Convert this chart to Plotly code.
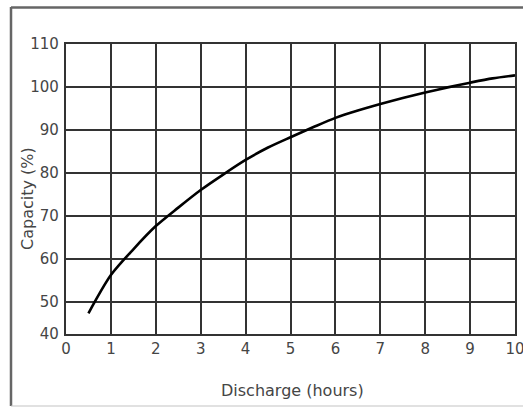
import plotly.graph_objects as go

# Data
discharge_hours = [0.5, 1, 1.5, 2, 2.5, 3, 3.5, 4, 4.5, 5, 5.5, 6, 6.5, 7, 7.5, 8, 8.5, 9, 9.5, 10]
capacity_pct = [47.3, 56.2, 62.2, 67.6, 71.9, 76.0, 79.6, 83.0, 85.9, 88.3, 90.6, 92.8,
                94.5, 96.0, 97.4, 98.7, 99.9, 101.0, 102.0, 102.7]

x_ticks = [0, 1, 2, 3, 4, 5, 6, 7, 8, 9, 10]
x_tick_labels = ["0", "1", "2", "3", "4", "5", "6", "7", "8", "9", "10"]
# the bottom row of the original grid is compressed: the "40" label sits at the axis floor
y_floor = 42.47
y_ticks = [y_floor, 50, 60, 70, 80, 90, 100, 110]
y_tick_labels = ["40", "50", "60", "70", "80", "90", "100", "110"]
x_title = "Discharge (hours)"
y_title = "Capacity (%)"

# figure is slightly wider than the window so the "10" label is cut like the original
W, H = 532, 407
ML, MR, MT, MB = 66, 17, 44, 73
pw, ph = W - ML - MR, H - MT - MB

def px_x(px):
    return (px - ML) / pw

def px_y(py):
    return (H - MB - py) / ph

font_family = "DejaVu Sans, Verdana, sans-serif"
grid_col = "#333333"
text_col = "#454545"

fig = go.Figure()
fig.add_trace(go.Scatter(
    x=discharge_hours, y=capacity_pct, mode="lines",
    line=dict(color="#000000", width=2.6, shape="spline", smoothing=0.8),
    showlegend=False, hoverinfo="skip",
))

frame_dark = dict(color="#666666", width=2.5)
frame_light = dict(color="#c4c4c4", width=1.2)

fig.update_layout(
    width=W, height=H,
    margin=dict(l=ML, r=MR, t=MT, b=MB, pad=0, autoexpand=False),
    paper_bgcolor="white", plot_bgcolor="white",
    font=dict(family=font_family, size=15, color=text_col),
    xaxis=dict(
        range=[0, 10], tickmode="array", tickvals=x_ticks, ticktext=x_tick_labels,
        showgrid=True, gridcolor=grid_col, gridwidth=2.2,
        showline=True, linecolor=grid_col, linewidth=2.2, mirror=True,
        ticks="", zeroline=False, automargin=False,
        tickfont=dict(size=15, color=text_col),
    ),
    yaxis=dict(
        range=[y_floor, 110], tickmode="array", tickvals=y_ticks, ticktext=y_tick_labels,
        showgrid=True, gridcolor=grid_col, gridwidth=2.2,
        showline=True, linecolor=grid_col, linewidth=2.2, mirror=True,
        ticks="", zeroline=False, automargin=False,
        tickfont=dict(size=15, color=text_col),
        ticklabelstandoff=2,
    ),
    annotations=[
        dict(text=x_title, xref="paper", yref="paper", x=px_x(292), y=px_y(390),
             xanchor="center", yanchor="middle", showarrow=False,
             font=dict(size=16, color=text_col)),
        dict(text=y_title, xref="paper", yref="paper", x=px_x(27), y=px_y(199),
             xanchor="center", yanchor="middle", showarrow=False, textangle=-90,
             font=dict(size=16, color=text_col)),
    ],
    shapes=[
        dict(type="line", xref="paper", yref="paper",
             x0=px_x(11), x1=px_x(11), y0=px_y(406), y1=px_y(7),
             line=frame_dark, layer="below"),
        dict(type="line", xref="paper", yref="paper",
             x0=px_x(11), x1=px_x(545), y0=px_y(7.5), y1=px_y(7.5),
             line=frame_dark, layer="below"),
        dict(type="line", xref="paper", yref="paper",
             x0=px_x(11), x1=px_x(545), y0=px_y(406), y1=px_y(406),
             line=frame_light, layer="below"),
    ],
)

fig.write_html("out.html", config={"displayModeBar": False},
               post_script="document.body.style.margin='0px';document.body.style.overflow='hidden';")
